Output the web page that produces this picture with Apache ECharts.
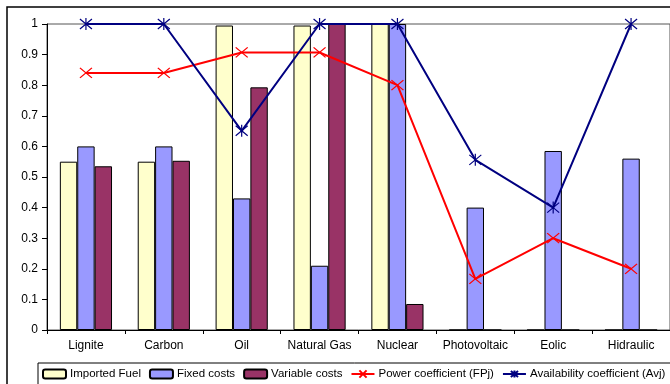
<!DOCTYPE html>
<html>
<head>
<meta charset="utf-8">
<script src="https://cdn.jsdelivr.net/npm/echarts@6/dist/echarts.min.js"></script>
<style>
  html, body { margin: 0; padding: 0; background: #fff; }
  #chart { width: 670px; height: 384px; }
</style>
</head>
<body>
<div id="chart"></div>
<script>
// data
const categories = ['Lignite', 'Carbon', 'Oil', 'Natural Gas', 'Nuclear', 'Photovoltaic', 'Eolic', 'Hidraulic'];
const importedFuel = [0.55, 0.55, 0.995, 0.995, 1, 0, 0, 0];
const fixedCosts = [0.6, 0.6, 0.43, 0.21, 1, 0.4, 0.585, 0.56];
const variableCosts = [0.535, 0.553, 0.793, 1, 0.085, 0, 0, 0];
const powerCoef = [0.84, 0.84, 0.907, 0.907, 0.8, 0.167, 0.3, 0.2];
const availCoef = [1, 1, 0.651, 1, 1, 0.556, 0.4, 1];

const font = 'Liberation Sans, Arial, sans-serif';
const crossSymbol = 'path://M0,0L10,10M10,0L0,10';
const starSymbol = 'path://M0,0L10,10M10,0L0,10M5,-1L5,11';

function barSeries(name, data, color) {
  return {
    name: name,
    type: 'bar',
    data: data,
    barGap: '0%',
    barCategoryGap: '33%',
    itemStyle: { color: color, borderColor: '#000', borderWidth: 1 }
  };
}

function lineSeries(name, data, color, symbol, size) {
  return {
    name: name,
    type: 'line',
    data: data,
    symbol: symbol,
    symbolSize: size,
    lineStyle: { color: color, width: 2 },
    itemStyle: { color: color, borderColor: color, borderWidth: 1.2 },
    z: 5
  };
}

const chart = echarts.init(document.getElementById('chart'));
const option = {
  animation: false,
  textStyle: { fontFamily: font },
  graphic: [{
    type: 'rect',
    shape: { x: 7, y: 7, width: 700, height: 400 },
    style: { fill: 'none', stroke: '#000', lineWidth: 1.5 },
    silent: true
  }],
  grid: {
    left: 47, top: 24, right: 0, bottom: 54,
    show: true, borderColor: '#555', borderWidth: 1
  },
  legend: {
    left: 38, top: 363, width: 700,
    padding: [5, 40, 12, 4],
    borderColor: '#000', borderWidth: 1,
    itemGap: 8, itemWidth: 23, itemHeight: 9,
    textStyle: { fontFamily: font, fontSize: 11.5, color: '#000', padding: [0, 0, 0, -1] },
    data: ['Imported Fuel', 'Fixed costs', 'Variable costs',
           'Power coefficient (FPj)', 'Availability coefficient (Avj)']
  },
  xAxis: {
    type: 'category',
    data: categories,
    axisLine: { lineStyle: { color: '#000', width: 1 } },
    axisTick: { show: true, length: 4, lineStyle: { color: '#000' } },
    axisLabel: { color: '#000', fontSize: 12, margin: 10, interval: 0, fontFamily: font }
  },
  yAxis: {
    type: 'value',
    min: 0, max: 1, interval: 0.1,
    splitLine: { show: false },
    axisLine: { show: true, lineStyle: { color: '#000', width: 1 } },
    axisTick: { show: true, length: 5, lineStyle: { color: '#000' } },
    axisLabel: { color: '#000', fontSize: 12, margin: 9, fontFamily: font }
  },
  series: [
    barSeries('Imported Fuel', importedFuel, '#FFFFCC'),
    barSeries('Fixed costs', fixedCosts, '#9999FF'),
    barSeries('Variable costs', variableCosts, '#993366'),
    lineSeries('Power coefficient (FPj)', powerCoef, '#FF0000', crossSymbol, [12, 10]),
    lineSeries('Availability coefficient (Avj)', availCoef, '#000080', starSymbol, 12)
  ]
};
chart.setOption(option);
</script>
</body>
</html>
